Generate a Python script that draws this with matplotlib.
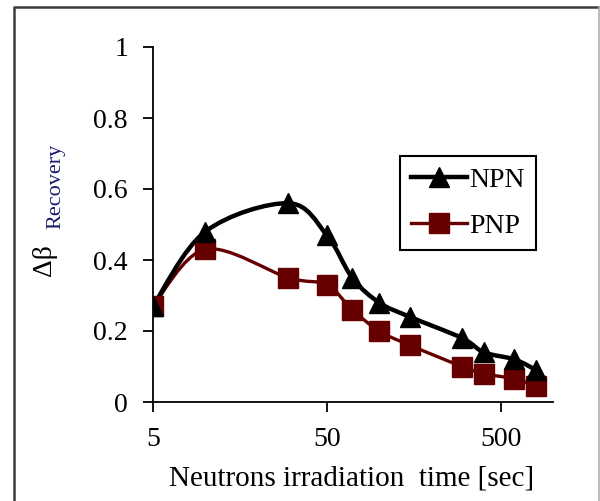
import numpy as np
import matplotlib
matplotlib.use("Agg")
import matplotlib.pyplot as plt
from matplotlib.path import Path
from matplotlib.patches import PathPatch
from matplotlib.lines import Line2D
from matplotlib.ticker import FixedLocator, NullLocator, FixedFormatter

plt.rcParams['font.family'] = ['Liberation Serif', 'DejaVu Serif']

# data
time_sec = [5, 10, 30, 50, 70, 100, 150, 300, 400, 600, 800]
npn = [0.27, 0.48, 0.56, 0.47, 0.35, 0.28, 0.24, 0.18, 0.14, 0.12, 0.09]
pnp = [0.27, 0.43, 0.35, 0.33, 0.26, 0.20, 0.16, 0.10, 0.08, 0.065, 0.045]
x_ticks = [5, 50, 500]
x_ticklabels = ['5', '50', '500']
y_ticks = [0, 0.2, 0.4, 0.6, 0.8, 1]
y_ticklabels = ['0', '0.2', '0.4', '0.6', '0.8', '1']

npn_color = 'black'
pnp_color = '#660000'


def smooth_path(xs, ys):
    # Excel-like smoothed line: cubic bezier segments (Catmull-Rom control points) in log-x space
    lx = np.log10(np.asarray(xs, float))
    y = np.asarray(ys, float)
    pts = np.column_stack([lx, y])
    n = len(pts)
    verts = [pts[0]]
    codes = [Path.MOVETO]
    for i in range(n - 1):
        p0 = pts[i - 1] if i > 0 else pts[i]
        p1 = pts[i]
        p2 = pts[i + 1]
        p3 = pts[i + 2] if i + 2 < n else pts[i + 1]
        c1 = p1 + (p2 - p0) / 6.0
        c2 = p2 - (p3 - p1) / 6.0
        verts += [c1, c2, p2]
        codes += [Path.CURVE4] * 3
    verts = np.array(verts)
    verts[:, 0] = 10 ** verts[:, 0]
    return Path(verts, codes)


fig = plt.figure(figsize=(6.0, 5.01), dpi=100)
ax = fig.add_axes([153 / 600, 1 - 402 / 501, 400 / 600, 355 / 501])
ax.set_xscale('log')
ax.set_xlim(5, 1000)
ax.set_ylim(0, 1)

ax.add_patch(PathPatch(smooth_path(time_sec, pnp), fill=False, edgecolor=pnp_color,
                       lw=2.4, capstyle='round', joinstyle='round', zorder=2))
ax.add_patch(PathPatch(smooth_path(time_sec, npn), fill=False, edgecolor=npn_color,
                       lw=3.2, capstyle='round', joinstyle='round', zorder=3))
ax.plot(time_sec, pnp, ls='none', marker='s', ms=14, color=pnp_color, zorder=4)
ax.plot(time_sec, npn, ls='none', marker='^', ms=15, color=npn_color, zorder=5)

for s in ['top', 'right']:
    ax.spines[s].set_visible(False)
for s in ['left', 'bottom']:
    ax.spines[s].set_linewidth(1.3)

ax.xaxis.set_major_locator(FixedLocator(x_ticks))
ax.xaxis.set_major_formatter(FixedFormatter(x_ticklabels))
ax.xaxis.set_minor_locator(NullLocator())
ax.set_yticks(y_ticks)
ax.set_yticklabels(y_ticklabels)
ax.tick_params(axis='both', direction='out', length=7, width=1.3, labelsize=20, pad=11)
for lab in ax.get_xticklabels() + ax.get_yticklabels():
    lab.set_clip_on(False)

handles = [
    Line2D([], [], color=npn_color, lw=3.2, marker='^', ms=15),
    Line2D([], [], color=pnp_color, lw=2.4, marker='s', ms=14),
]
leg = ax.legend(handles, ['NPN', 'PNP'], loc='upper left',
                bbox_to_anchor=(247 / 400, (402 - 156) / 355), borderaxespad=0,
                fontsize=20, frameon=True, fancybox=False, shadow=False,
                handlelength=2.0, handletextpad=0.1, borderpad=0.4,
                labelspacing=0.75, framealpha=1)
leg.get_frame().set_edgecolor('black')
leg.get_frame().set_linewidth(1.5)

# axis titles
fig.text(352 / 600, 1 - 478 / 501, 'Neutrons irradiation  time [sec]',
         fontsize=21, ha='center', va='center')
fig.text(44 / 600, 1 - 260 / 501, '\u0394\u03b2', fontsize=20, rotation=90,
         ha='center', va='center')
fig.text(56 / 600, 1 - 186 / 501, 'Recovery', fontsize=16, rotation=90,
         ha='center', va='center', color='#1c1c70')

# outer frame of the picture
fig.add_artist(Line2D([14 / 600, 14 / 600, 598 / 600], [0, 1 - 7 / 501, 1 - 7 / 501],
                      transform=fig.transFigure, color='#3c3c3c', lw=1.8))
fig.add_artist(Line2D([599 / 600, 599 / 600], [0, 1 - 7 / 501],
                      transform=fig.transFigure, color='#b0b0b0', lw=1.2))

fig.savefig('out.png', dpi=100)
